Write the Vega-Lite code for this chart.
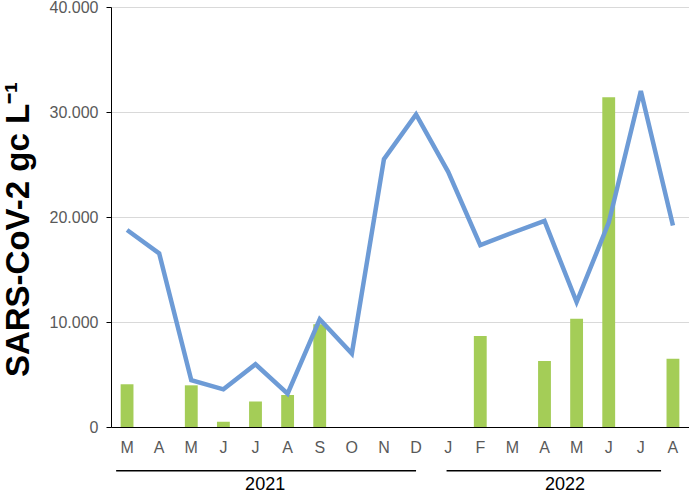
{
  "$schema": "https://vega.github.io/schema/vega-lite/v6.json",
  "autosize": {"type": "none"},
  "width": 578,
  "height": 420,
  "padding": {"left": 111, "top": 7, "right": 0, "bottom": 66},
  "background": "white",
  "config": {"view": {"stroke": null}, "font": "Liberation Sans"},
  "data": {
    "values": [
      {"month": "2021-03", "line": 18760, "bar": 4070},
      {"month": "2021-04", "line": 16540, "bar": null},
      {"month": "2021-05", "line": 4450, "bar": 3970},
      {"month": "2021-06", "line": 3590, "bar": 500},
      {"month": "2021-07", "line": 5970, "bar": 2420},
      {"month": "2021-08", "line": 3180, "bar": 3050},
      {"month": "2021-09", "line": 10260, "bar": 9780},
      {"month": "2021-10", "line": 6990, "bar": null},
      {"month": "2021-11", "line": 25500, "bar": null},
      {"month": "2021-12", "line": 29760, "bar": null},
      {"month": "2022-01", "line": 24300, "bar": null},
      {"month": "2022-02", "line": 17330, "bar": 8670},
      {"month": "2022-03", "line": 18500, "bar": null},
      {"month": "2022-04", "line": 19620, "bar": 6290},
      {"month": "2022-05", "line": 11900, "bar": 10300},
      {"month": "2022-06", "line": 19460, "bar": 31400},
      {"month": "2022-07", "line": 32000, "bar": null},
      {"month": "2022-08", "line": 19200, "bar": 6500}
    ]
  },
  "encoding": {
    "x": {
      "field": "month",
      "type": "nominal",
      "scale": {
        "type": "band",
        "paddingInner": 0,
        "paddingOuter": 0,
        "domain": ["2021-03", "2021-04", "2021-05", "2021-06", "2021-07", "2021-08", "2021-09", "2021-10", "2021-11", "2021-12", "2022-01", "2022-02", "2022-03", "2022-04", "2022-05", "2022-06", "2022-07", "2022-08"]
      },
      "axis": {
        "title": null,
        "labelAngle": 0,
        "labelExpr": "substring(utcFormat(toDate(datum.value + '-15'), '%B'), 0, 1)",
        "ticks": false,
        "domainColor": "#000000",
        "domainWidth": 1,
        "labelPadding": 12,
        "labelFontSize": 16,
        "labelColor": "#595959",
        "labelFont": "Liberation Sans",
        "grid": false
      }
    }
  },
  "layer": [
    {
      "mark": {"type": "bar", "color": "#A4CD57", "width": {"band": 0.4}},
      "encoding": {
        "y": {
          "field": "bar",
          "type": "quantitative",
          "scale": {"domain": [0, 40000], "nice": false},
          "axis": {
            "title": "SARS-CoV-2 gc L⁻¹",
            "titleFont": "Liberation Sans",
            "titleFontWeight": "bold",
            "titleFontSize": 33,
            "titleColor": "#000000",
            "titlePadding": 14,
            "titleY": 222,
            "values": [0, 10000, 20000, 30000, 40000],
            "labelExpr": "replace(format(datum.value, ','), ',', '.')",
            "labelFont": "Liberation Sans",
            "labelFontSize": 16,
            "labelColor": "#595959",
            "labelPadding": 8,
            "tickSize": 5,
            "tickColor": "#000000",
            "domainColor": "#000000",
            "gridColor": "#D9D9D9",
            "gridWidth": 1
          }
        }
      }
    },
    {
      "mark": {"type": "line", "color": "#6D9BD6", "strokeWidth": 4.5},
      "encoding": {
        "y": {"field": "line", "type": "quantitative"}
      }
    },
    {
      "data": {"values": [{"year": "2021"}]},
      "layer": [
        {
          "mark": {"type": "rule", "color": "#000000", "strokeWidth": 1.5},
          "encoding": {
            "x": {"datum": "2021-03", "bandPosition": 0.16},
            "x2": {"datum": "2021-12", "bandPosition": 0.5},
            "y": {"datum": -4160}
          }
        },
        {
          "mark": {"type": "text", "fontSize": 18, "fontWeight": "normal", "color": "#000000", "font": "Liberation Sans", "baseline": "middle"},
          "encoding": {
            "x": {"datum": "2021-07", "bandPosition": 0.8},
            "y": {"datum": -5480},
            "text": {"field": "year"}
          }
        }
      ]
    },
    {
      "data": {"values": [{"year": "2022"}]},
      "layer": [
        {
          "mark": {"type": "rule", "color": "#000000", "strokeWidth": 1.5},
          "encoding": {
            "x": {"datum": "2022-01", "bandPosition": 0.45},
            "x2": {"datum": "2022-08", "bandPosition": 0.13},
            "y": {"datum": -4160}
          }
        },
        {
          "mark": {"type": "text", "fontSize": 18, "fontWeight": "normal", "color": "#000000", "font": "Liberation Sans", "baseline": "middle"},
          "encoding": {
            "x": {"datum": "2022-05", "bandPosition": 0.14},
            "y": {"datum": -5480},
            "text": {"field": "year"}
          }
        }
      ]
    }
  ]
}
